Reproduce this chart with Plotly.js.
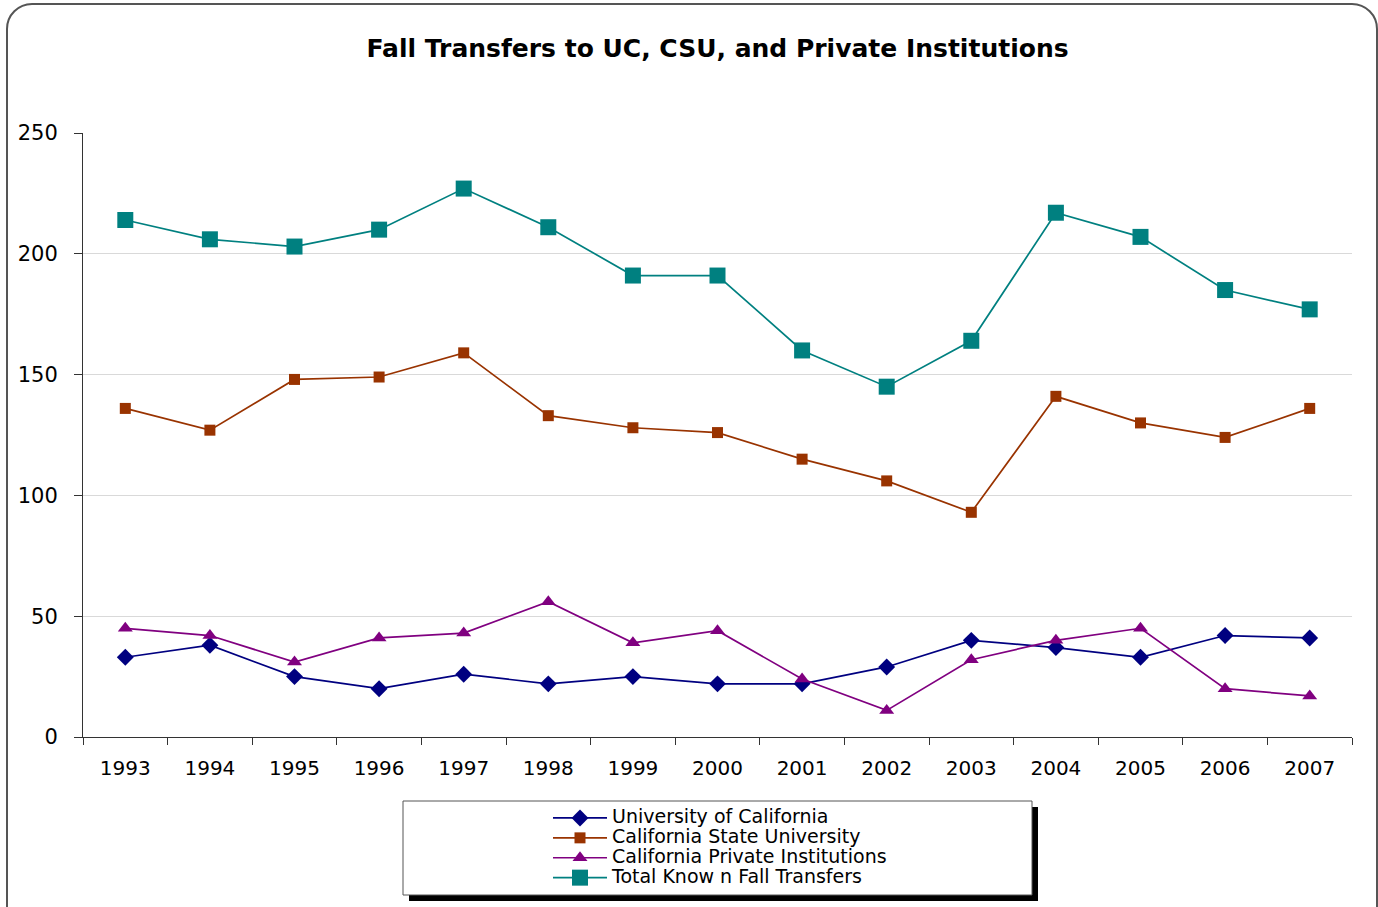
<!DOCTYPE html>
<html><head><meta charset="utf-8">
<script src="https://cdn.plot.ly/plotly-3.0.1.min.js"></script>
<style>
html,body{margin:0;padding:0;background:#fff;overflow:hidden;}
#wrap{position:relative;width:1378px;height:907px;}
#chart{position:absolute;left:0;top:0;width:1378px;height:907px;}
#frame{position:absolute;left:6px;top:3px;width:1368px;height:960px;border:2px solid #555;border-radius:26px;pointer-events:none;}
#chart .legend .legendtext{font-size:19px !important;}
#chart .legend .scrollbox{clip-path:none !important;}
#chart .legend{clip-path:none !important;}
</style></head>
<body><div id="wrap"><div id="chart"></div><div id="frame"></div></div>
<script>
const years = ['1993','1994','1995','1996','1997','1998','1999','2000','2001','2002','2003','2004','2005','2006','2007'];
const uc = [33,38,25,20,26,22,25,22,22,29,40,37,33,42,41];
const csu = [136,127,148,149,159,133,128,126,115,106,93,141,130,124,136];
const priv = [45,42,31,41,43,56,39,44,24,11,32,40,45,20,17];
const total = [214,206,203,210,227,211,191,191,160,145,164,217,207,185,177];
const names = ['University of California','California State University','California Private Institutions','Total Know n Fall Transfers'];

const mk = (y, name, color, symbol, size) => ({
  x: years, y: y, name: name, type: 'scatter', mode: 'lines+markers',
  line: {color: color, width: 1.7},
  marker: {color: color, symbol: symbol, size: size, line: {width: 0}}
});
const traces = [
  mk(uc, names[0], '#000080', 'diamond', 13),
  mk(csu, names[1], '#993300', 'square', 11),
  mk(priv, names[2], '#800080', 'triangle-up', 13),
  mk(total, names[3], '#008080', 'square', 16)
];
// plot area: x 83..1352, y 133..737
const L = 83, R = 1352, T = 133, B = 737;
const px = v => (v - L) / (R - L);
const py = v => (B - v) / (B - T);
const FONT = 'DejaVu Sans, Liberation Sans, Arial, sans-serif';
const layout = {
  width: 1378, height: 907,
  margin: {l: L, r: 1378 - R, t: T, b: 907 - B, autoexpand: false},
  paper_bgcolor: '#fff', plot_bgcolor: '#fff',
  font: {family: FONT, color: '#000'},
  title: {text: '<b>Fall Transfers to UC, CSU, and Private Institutions</b>', font: {size: 25, color: '#000', family: FONT},
    x: 0.5, xref: 'paper', xanchor: 'center', y: 1 - 48 / 907, yref: 'container', yanchor: 'middle'},
  xaxis: {type: 'category', range: [-0.5, 14.5], showgrid: false, showline: true, linecolor: '#333', linewidth: 1,
    ticks: 'outside', ticklen: 7, tickcolor: '#333', tickson: 'boundaries', tickfont: {size: 20},
    ticklabelstandoff: 13, zeroline: false, fixedrange: true},
  yaxis: {range: [0, 250], dtick: 50, showgrid: true, gridcolor: '#d9d9d9', gridwidth: 1, showline: true,
    linecolor: '#333', linewidth: 1, ticks: 'outside', ticklen: 8, tickcolor: '#333', tickfont: {size: 21},
    ticklabelstandoff: 12, zeroline: false, fixedrange: true},
  showlegend: true,
  legend: {x: px(548), y: py(803), xanchor: 'left', yanchor: 'top', bgcolor: 'rgba(0,0,0,0)', borderwidth: 0,
    font: {size: 13, color: '#000', family: FONT}, itemwidth: 54, tracegroupgap: 0, traceorder: 'normal'},
  shapes: [
    {type: 'rect', xref: 'paper', yref: 'paper', x0: px(409), x1: px(1038), y0: py(901), y1: py(807),
      fillcolor: '#000', line: {width: 0}},
    {type: 'rect', xref: 'paper', yref: 'paper', x0: px(403), x1: px(1032), y0: py(895), y1: py(801),
      fillcolor: '#fff', line: {width: 1, color: '#555'}}
  ]
};
Plotly.newPlot('chart', traces, layout, {displayModeBar: false, staticPlot: true});
</script></body></html>
